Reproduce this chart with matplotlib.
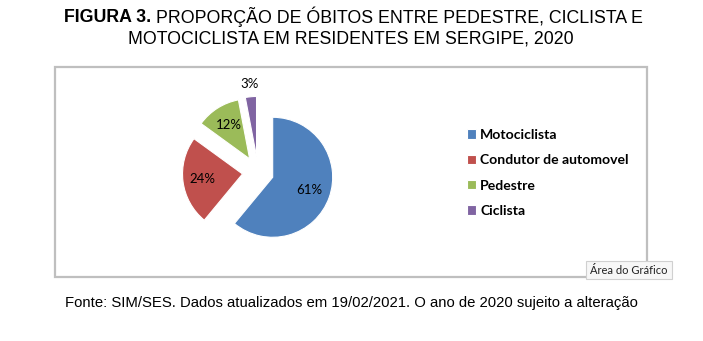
import matplotlib
matplotlib.use("Agg")
import matplotlib.pyplot as plt
from matplotlib.patches import Rectangle
import numpy as np

categorias = ["Motociclista", "Condutor de automovel", "Pedestre", "Ciclista"]
percentuais = [61, 24, 12, 3]
cores = ["#4F81BD", "#C0504D", "#9BBB59", "#8064A2"]

W, H = 703, 341
fig = plt.figure(figsize=(W / 100, H / 100), dpi=100)
fig.patch.set_facecolor("white")

# moldura da area do grafico
fig.patches.append(Rectangle((55 / W, 1 - 277 / H), (647 - 55) / W, (277 - 67) / H,
                             transform=fig.transFigure, fill=False,
                             edgecolor="#BFBFBF", linewidth=1.6))

# eixo da pizza: centro (258,172) px, raio 60 px
ax = fig.add_axes([138 / W, 1 - 292 / H, 240 / W, 240 / H])
wedges, _ = ax.pie(percentuais, colors=cores, startangle=90, counterclock=False,
                   explode=[0.26] * 4, radius=1.0,
                   wedgeprops=dict(edgecolor="white", linewidth=0.8))
ax.set_xlim(-2, 2)
ax.set_ylim(-2, 2)
ax.set_aspect("equal")
ax.axis("off")

# rotulos de percentual
dist = [0.65, 0.68, 0.66, 1.22]
for w, p, d in zip(wedges, percentuais, dist):
    ang = np.deg2rad((w.theta1 + w.theta2) / 2)
    cx, cy = w.center
    ax.text(cx + d * np.cos(ang), cy + d * np.sin(ang), f"{p}%",
            ha="center", va="center", fontsize=9.5, family="Lato")

leg = fig.legend(wedges, categorias, loc="upper left",
                 bbox_to_anchor=(460 / W, 1 - 122 / H), frameon=False,
                 prop=dict(family="Lato", weight="bold", size=10.1),
                 handlelength=0.65, handleheight=0.65, handletextpad=0.3,
                 labelspacing=0.95, borderpad=0)

# titulo (parte em negrito + parte normal, centralizado)
tam = 12.8
r = fig.canvas.get_renderer()
tb = fig.text(0, 1 - 17 / H, "FIGURA 3. ", ha="left", va="center",
              fontsize=tam, family="Liberation Sans", weight="bold")
tn = fig.text(0, 1 - 17 / H, "PROPORÇÃO DE ÓBITOS ENTRE PEDESTRE, CICLISTA E",
              ha="left", va="center", fontsize=tam, family="Liberation Sans")
wb = tb.get_window_extent(r).width
wn = tn.get_window_extent(r).width
x0 = 353 - (wb + wn) / 2
tb.set_x(x0 / W)
tn.set_x((x0 + wb) / W)
fig.text(351 / W, 1 - 39 / H, "MOTOCICLISTA EM RESIDENTES EM SERGIPE, 2020",
         ha="center", va="center", fontsize=tam, family="Liberation Sans")

# fonte
fig.text(351.5 / W, 1 - 303 / H,
         "Fonte: SIM/SES. Dados atualizados em 19/02/2021. O ano de 2020 sujeito a alteração",
         ha="center", va="center", fontsize=10.7, family="Liberation Sans")

# dica de tela
fig.text(629 / W, 1 - 270 / H, "Área do Gráfico", ha="center", va="center",
         fontsize=8, family="Lato", color="#222222",
         bbox=dict(boxstyle="square,pad=0.35", facecolor="#F7F7F7",
                   edgecolor="#D0D0D0", linewidth=0.8))

fig.savefig("out.png", dpi=100)
